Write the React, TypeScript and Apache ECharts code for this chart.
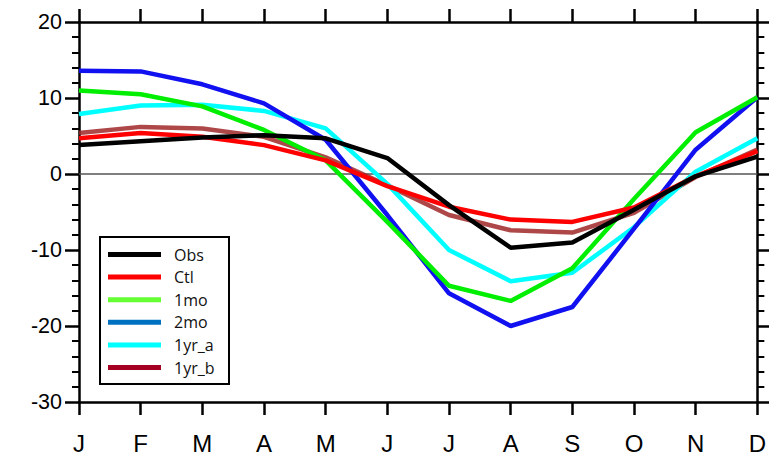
import React, { useEffect, useRef } from "react";
import * as echarts from "echarts";

const months = ["J", "F", "M", "A", "M", "J", "J", "A", "S", "O", "N", "D"];
const seriesNames = ["Obs", "Ctl", "1mo", "2mo", "1yr_a", "1yr_b"];
const obs = [3.8, 4.3, 4.8, 5.1, 4.7, 2.1, -4.1, -9.7, -9.0, -4.7, -0.3, 2.3];
const ctl = [4.7, 5.4, 4.9, 3.8, 1.8, -1.6, -4.3, -6.0, -6.3, -4.4, -0.3, 3.0];
const mo1 = [11.0, 10.5, 8.9, 5.8, 1.8, -6.3, -14.7, -16.7, -12.4, -3.3, 5.5, 10.1];
const mo2 = [13.6, 13.5, 11.8, 9.3, 4.5, -5.4, -15.7, -20.0, -17.5, -7.2, 3.2, 10.1];
const yr1a = [7.9, 9.0, 9.1, 8.3, 6.0, -1.3, -10.0, -14.1, -13.0, -7.0, 0.3, 4.7];
const yr1b = [5.4, 6.2, 6.0, 4.9, 2.2, -1.5, -5.4, -7.4, -7.7, -5.1, -0.4, 3.2];
const yTicks = [-30, -20, -10, 0, 10, 20];

const lineColors = ["#000000", "#ff0000", "#00ee00", "#1010f0", "#00ffff", "rgba(160,40,40,0.85)"];
const legendColors = ["#000000", "#ff0000", "#66ff33", "#0070c0", "#00ffff", "#a50021"];

export default function App() {
  const ref = useRef<HTMLDivElement>(null);
  useEffect(() => {
    if (!ref.current) return;
    const chart = echarts.init(ref.current, null, { renderer: "svg" });
    const values = [obs, ctl, mo1, mo2, yr1a, yr1b];
    const drawOrder = [5, 4, 3, 2, 1, 0];
    const font = "'Liberation Sans', Arial, sans-serif";

    const legendX = 100, legendY = 237, rowH = 22.6;
    const legendChildren: any[] = [
      {
        type: "rect",
        shape: { x: legendX, y: legendY, width: 129, height: 147 },
        style: { fill: "#ffffff", stroke: "#000000", lineWidth: 2 },
      },
    ];
    seriesNames.forEach((n, i) => {
      const y = legendY + 17.5 + i * rowH;
      legendChildren.push({
        type: "line",
        shape: { x1: legendX + 8, y1: y, x2: legendX + 61, y2: y },
        style: { stroke: legendColors[i], lineWidth: 5 },
      });
      legendChildren.push({
        type: "text",
        x: legendX + 74,
        y: y,
        style: {
          text: n,
          fill: "#111",
          fontSize: 16,
          fontFamily: "'Open Sans', sans-serif",
          verticalAlign: "middle",
          align: "left",
        },
      });
    });

    const axisLine = { show: true, onZero: false, lineStyle: { color: "#000", width: 2.5 } };
    chart.setOption({
      animation: false,
      grid: { left: 79, right: 7, top: 22, bottom: 58, containLabel: false },
      xAxis: [
        {
          type: "category",
          data: months,
          boundaryGap: false,
          position: "bottom",
          axisLine,
          axisTick: { show: true, inside: false, length: 13, lineStyle: { color: "#000", width: 2.5 } },
          axisLabel: { show: true, margin: 29, fontSize: 24, color: "#000", fontFamily: font },
          splitLine: { show: false },
        },
        {
          type: "category",
          data: months,
          boundaryGap: false,
          position: "top",
          axisLine,
          axisTick: { show: true, inside: false, length: 13, lineStyle: { color: "#000", width: 2.5 } },
          axisLabel: { show: false },
          splitLine: { show: false },
        },
      ],
      yAxis: [
        {
          type: "value",
          min: yTicks[0],
          max: yTicks[yTicks.length - 1],
          interval: 10,
          position: "left",
          axisLine,
          axisTick: { show: true, inside: false, length: 14, lineStyle: { color: "#000", width: 2.5 } },
          minorTick: { show: true, splitNumber: 5, length: 7, lineStyle: { color: "#000", width: 2 } },
          axisLabel: { show: true, margin: 17, fontSize: 21.5, color: "#000", fontFamily: font },
          splitLine: { show: false },
        },
        {
          type: "value",
          min: yTicks[0],
          max: yTicks[yTicks.length - 1],
          interval: 10,
          position: "right",
          axisLine,
          axisTick: { show: true, inside: false, length: 14, lineStyle: { color: "#000", width: 2.5 } },
          minorTick: { show: true, splitNumber: 5, length: 7, lineStyle: { color: "#000", width: 2 } },
          axisLabel: { show: false },
          splitLine: { show: false },
        },
      ],
      series: drawOrder.map((i, k) => ({
        name: seriesNames[i],
        type: "line",
        data: values[i],
        symbol: "none",
        lineStyle: { color: lineColors[i], width: 4.5 },
        itemStyle: { color: lineColors[i] },
        z: 3 + k,
        markLine:
          k === 0
            ? {
                silent: true,
                symbol: "none",
                label: { show: false },
                lineStyle: { color: "#555", width: 1.5, type: "solid" },
                data: [{ yAxis: 0 }],
                z: 1,
              }
            : undefined,
      })),
      graphic: [{ type: "group", z: 100, children: legendChildren }],
    });
    return () => chart.dispose();
  }, []);
  return <div ref={ref} style={{ width: 769, height: 460, position: "absolute", left: 0, top: 0 }} />;
}
